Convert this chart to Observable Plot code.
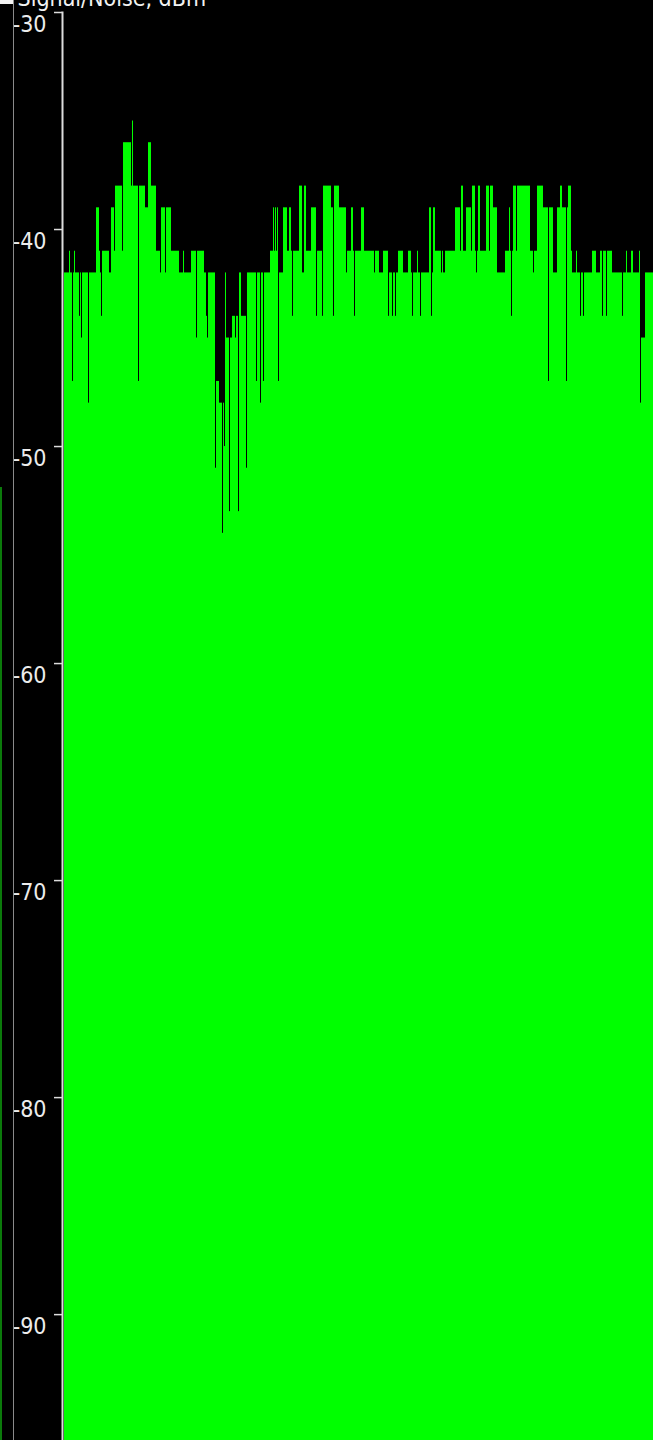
<!DOCTYPE html>
<html>
<head>
<meta charset="utf-8">
<script src="https://cdn.jsdelivr.net/npm/d3@7"></script>
<script src="https://cdn.jsdelivr.net/npm/@observablehq/plot@0.6"></script>
<style>
  html, body { margin: 0; padding: 0; background: #000; overflow: hidden; }
  #wrap { position: relative; width: 653px; height: 1440px; }
  #chart svg { display: block; }
  .deco { position: absolute; }
</style>
</head>
<body>
<div id="wrap">
  <div id="chart"></div>
  <div class="deco" style="left:0;top:0;width:13px;height:4px;background:#f2f2f2"></div>
  <div class="deco" style="left:13px;top:0;width:1px;height:1440px;background:#8a8a8a"></div>
  <div class="deco" style="left:0;top:487px;width:2px;height:953px;background:#0b7a0b"></div>
</div>
<script>
const title = "Signal/Noise, dBm";
const yTicks = [-30, -40, -50, -60, -70, -80, -90];
const yDomain = [-95.8, -30];

// signal level (dBm) per spectrum bin, read left to right
const levels = [
  -42,-42,-42,-42,-42,-41,-42,-42,-47,-42,
  -41,-42,-42,-42,-42,-44,-42,-45,-42,-42,
  -42,-42,-42,-42,-48,-42,-42,-42,-42,-42,
  -42,-42,-39,-39,-39,-41,-42,-44,-41,-41,
  -41,-41,-41,-41,-41,-42,-42,-39,-39,-39,
  -41,-38,-38,-38,-38,-38,-38,-38,-41,-36,
  -36,-36,-36,-36,-36,-36,-36,-38,-35,-38,
  -38,-38,-38,-38,-47,-38,-38,-38,-38,-38,
  -38,-39,-39,-39,-36,-36,-36,-38,-38,-38,
  -38,-38,-41,-41,-41,-41,-42,-39,-39,-39,
  -39,-42,-39,-39,-39,-39,-39,-41,-41,-41,
  -41,-41,-41,-41,-41,-42,-42,-42,-42,-41,
  -42,-42,-42,-42,-42,-42,-42,-41,-41,-41,
  -41,-41,-45,-41,-41,-41,-41,-41,-41,-41,
  -42,-42,-44,-45,-42,-42,-42,-42,-42,-42,
  -42,-51,-47,-47,-47,-48,-48,-48,-54,-48,
  -50,-42,-45,-45,-45,-53,-45,-45,-44,-44,
  -44,-45,-44,-44,-53,-42,-42,-44,-44,-44,
  -44,-44,-51,-42,-42,-42,-42,-42,-42,-42,
  -42,-42,-47,-42,-42,-42,-48,-42,-42,-47,
  -42,-42,-42,-42,-42,-42,
  -41,-41,-41,-39,-41,-39,-41,-39,-47,-42,
  -42,-42,-42,-39,-39,-39,-39,-41,-41,-39,
  -39,-41,-44,-41,-41,-41,-41,-41,-41,-38,
  -38,-38,-42,-42,-38,-38,-41,-41,-41,-41,
  -41,-39,-39,-39,-39,-39,-44,-41,-41,-41,
  -41,-41,-44,-38,-38,-38,-38,-38,-38,-38,
  -38,-39,-39,-44,-38,-38,-38,-38,-38,-39,
  -39,-39,-39,-39,-39,-39,-42,-41,-41,-41,
  -41,-39,-39,-41,-44,-41,-41,-41,-41,-41,
  -41,-39,-39,-39,-41,-41,-41,-41,-41,-41,
  -41,-41,-41,-41,-42,-41,-41,-41,-41,-42,
  -42,-42,-42,-41,-41,-41,-41,-41,-44,-42,
  -42,-42,-44,-42,-42,-44,-42,-42,-41,-41,
  -41,-41,-41,-42,-42,-42,-42,-42,-41,-41,
  -41,-42,-44,-42,-42,-42,-42,-41,-42,-42,
  -44,-42,-42,-42,-42,-42,-42,-42,-42,-39,
  -39,-44,-42,-39,-39,-41,-41,-41,-41,-41,
  -41,-42,-41,-42,-42,-41,-41,-41,-41,-41,
  -41,-41,-41,-41,-41,-39,-39,-39,-39,-39,
  -41,-38,-38,-41,-41,-41,-39,-39,-39,-39,
  -39,-41,-38,-38,-38,-41,-42,-41,-38,-38,
  -41,-41,-41,-41,-41,-41,-38,-38,-38,-41,
  -38,-38,-38,-39,-39,-39,-39,-42,-42,-42,
  -42,-42,-42,-42,-42,-41,-41,-41,-41,-39,
  -41,-44,-41,-38,-38,-38,-41,-38,-38,-38,
  -38,-38,-38,-38,-38,-38,-38,-38,-38,-38,
  -41,-41,-41,-42,-41,-41,-41,-38,-38,-38,
  -38,-38,-38,-39,-39,-39,-39,-39,-47,-39,
  -39,-39,-39,-42,-42,-42,-42,-39,-39,-39,
  -38,-38,-39,-39,-39,-39,-47,-39,-38,-38,
  -38,-41,-42,-42,-42,-42,-41,-42,-42,-42,
  -44,-42,-42,-44,-42,-42,-42,-42,-42,-42,
  -42,-42,-41,-41,-41,-41,-42,-42,-42,-42,
  -41,-41,-44,-41,-41,-41,-44,-41,-41,-41,
  -41,-41,-42,-42,-42,-42,-42,-42,-42,-42,
  -42,-42,-44,-42,-42,-42,-41,-42,-42,-42,
  -42,-41,-41,-42,-42,-42,-42,-42,-42,-41,
  -48,-45,-45,-45,-45,-42,-42,-42,-42,-42,
  -42,-42,-42
];

if (levels.length !== 589) throw new Error("levels length " + levels.length);

const bins = levels.map((v, i) => ({i, v}));
const font = "'Liberation Sans Narrow', 'DejaVu Sans Condensed', 'Liberation Sans', Arial, sans-serif";

const chart = Plot.plot({
  width: 653,
  height: 1440,
  marginTop: 12,
  marginBottom: 0,
  marginLeft: 62,
  marginRight: 0,
  style: {background: "#000", color: "#fff", fontFamily: font, overflow: "visible"},
  x: {type: "linear", domain: [0, levels.length], insetLeft: 2, axis: null},
  y: {domain: yDomain, axis: null},
  marks: [
    Plot.rectY(bins, {
      x1: "i",
      x2: d => d.i + 1,
      y1: yDomain[0],
      y2: "v",
      fill: "#00ff00"
    }),
    Plot.frame({anchor: "left", stroke: "#dcdcdc", strokeWidth: 2}),
    Plot.axisY(yTicks, {anchor: "left", tickSize: 8, stroke: "#dcdcdc", strokeWidth: 1.5, fill: "none", label: null}),
    Plot.axisY(yTicks, {
      anchor: "left", tickSize: 8, tickPadding: 8, stroke: "none", fill: "#ececec",
      fontSize: 23, dy: 12, tickFormat: d => String(d), label: null
    }),
    Plot.text([title], {
      frameAnchor: "top-left", textAnchor: "start", lineAnchor: "bottom",
      dx: -45, dy: -7, fill: "#f2f2f2", fontSize: 23
    })
  ]
});

document.getElementById("chart").appendChild(chart);
</script>
</body>
</html>
